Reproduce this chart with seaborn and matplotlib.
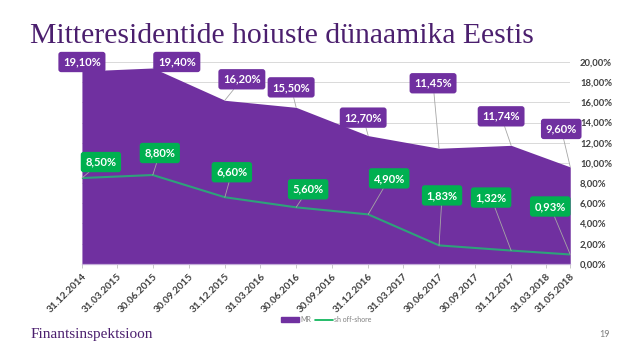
import numpy as np
import pandas as pd
import matplotlib
matplotlib.use("Agg")
import matplotlib.pyplot as plt
import seaborn as sns
from matplotlib.patches import Patch
from matplotlib.lines import Line2D

# Andmed (protsent hoiustest)
dates = ["31.12.2014", "30.06.2015", "31.12.2015", "30.06.2016",
         "31.12.2016", "30.06.2017", "31.12.2017", "31.05.2018"]
mr = [19.10, 19.40, 16.20, 15.50, 12.70, 11.45, 11.74, 9.60]
sh_offshore = [8.50, 8.80, 6.60, 5.60, 4.90, 1.83, 1.32, 0.93]

tick_dates = ["31.12.2014", "31.03.2015", "30.06.2015", "30.09.2015",
              "31.12.2015", "31.03.2016", "30.06.2016", "30.09.2016",
              "31.12.2016", "31.03.2017", "30.06.2017", "30.09.2017",
              "31.12.2017", "31.03.2018", "31.05.2018"]
y_ticks = [0, 2, 4, 6, 8, 10, 12, 14, 16, 18, 20]

df = pd.DataFrame({
    "date": pd.to_datetime(dates, format="%d.%m.%Y"),
    "MR": mr,
    "sh off-shore": sh_offshore,
})

# label offsets from the point, in pixels (x right, y up)
mr_offsets = [(0, 9), (24, 6), (17, 21), (-5, 20), (-5, 18), (-6, 65), (-10, 29), (-9, 38)]
sh_offsets = [(19, 16), (7, 22), (7, 25), (12, 18), (21, 36), (3, 50), (-20, 53), (-20, 48)]

purple = "#7030A0"
green = "#00B050"
line_col = "#2EA27A"
title_col = "#4B1F6E"

sns.set_theme(style="white")
plt.rcParams["font.family"] = ["Lato", "DejaVu Sans"]

fig = plt.figure(figsize=(6.4, 3.6), dpi=100)
ax = fig.add_axes([0.128, 0.267, 0.763, 0.561])

ax.fill_between(df["date"], df["MR"], color=purple, lw=0, zorder=2)
sns.lineplot(data=df, x="date", y="sh off-shore", color=line_col, lw=1.5, ax=ax, zorder=3)

ax.set_xlim(df["date"].iloc[0], df["date"].iloc[-1])
ax.set_ylim(0, 20)
ax.set_xlabel("")
ax.set_ylabel("")

ax.set_yticks(y_ticks)
ax.set_yticklabels([f"{v:.2f}".replace(".", ",") + "%" for v in y_ticks],
                   fontsize=6.8, fontweight="bold", color="#404040")
ax.yaxis.tick_right()
ax.tick_params(axis="y", length=0, pad=7)
ax.grid(axis="y", color="#D9D9D9", lw=0.7)
ax.set_axisbelow(True)

tick_pos = pd.to_datetime(tick_dates, format="%d.%m.%Y")
ax.set_xticks(tick_pos)
ax.set_xticklabels(tick_dates, rotation=45, ha="right", rotation_mode="anchor",
                   fontsize=7.2, fontweight="bold", color="#404040")
ax.tick_params(axis="x", bottom=True, length=3, width=0.6, color="#BFBFBF", pad=3)

for s in ["top", "left", "right"]:
    ax.spines[s].set_visible(False)
ax.spines["bottom"].set_color("#C4AED8")
ax.spines["bottom"].set_linewidth(0.9)

def pct(v):
    return f"{v:.2f}".replace(".", ",") + "%"

k = 72 / fig.dpi
for vals, offs, col in [(mr, mr_offsets, purple), (sh_offshore, sh_offsets, green)]:
    for d, v, (dx, dy) in zip(df["date"], vals, offs):
        ax.annotate(pct(v), xy=(d, v), xytext=(dx * k, dy * k), textcoords="offset points",
                    ha="center", va="center", color="white", fontsize=8, fontweight="bold",
                    bbox=dict(boxstyle="round,pad=0.42,rounding_size=0.25", fc=col, ec="none"),
                    arrowprops=dict(arrowstyle="-", color="#A6A6A6", lw=0.6, shrinkA=0, shrinkB=0),
                    zorder=5)

handles = [Patch(color=purple, label="MR"),
           Line2D([0], [0], color=green, lw=1.2, label="sh off-shore")]
fig.legend(handles=handles, loc="center", bbox_to_anchor=(0.51, 0.112), ncol=2,
           frameon=False, fontsize=5, handlelength=2.5, handleheight=0.7,
           columnspacing=0.6, handletextpad=0.2, labelcolor="#808080")

fig.text(0.047, 0.90, "Mitteresidentide hoiuste dünaamika Eestis", fontsize=21.3,
         family="Liberation Serif", color=title_col, va="center", ha="left")
fig.text(0.047, 0.07, "Finantsinspektsioon", fontsize=11, family="Liberation Serif",
         color=title_col, va="center", ha="left")
fig.text(0.945, 0.07, "19", fontsize=6.5, color="#808080", va="center", ha="center")

fig.savefig("out.png", dpi=100)
